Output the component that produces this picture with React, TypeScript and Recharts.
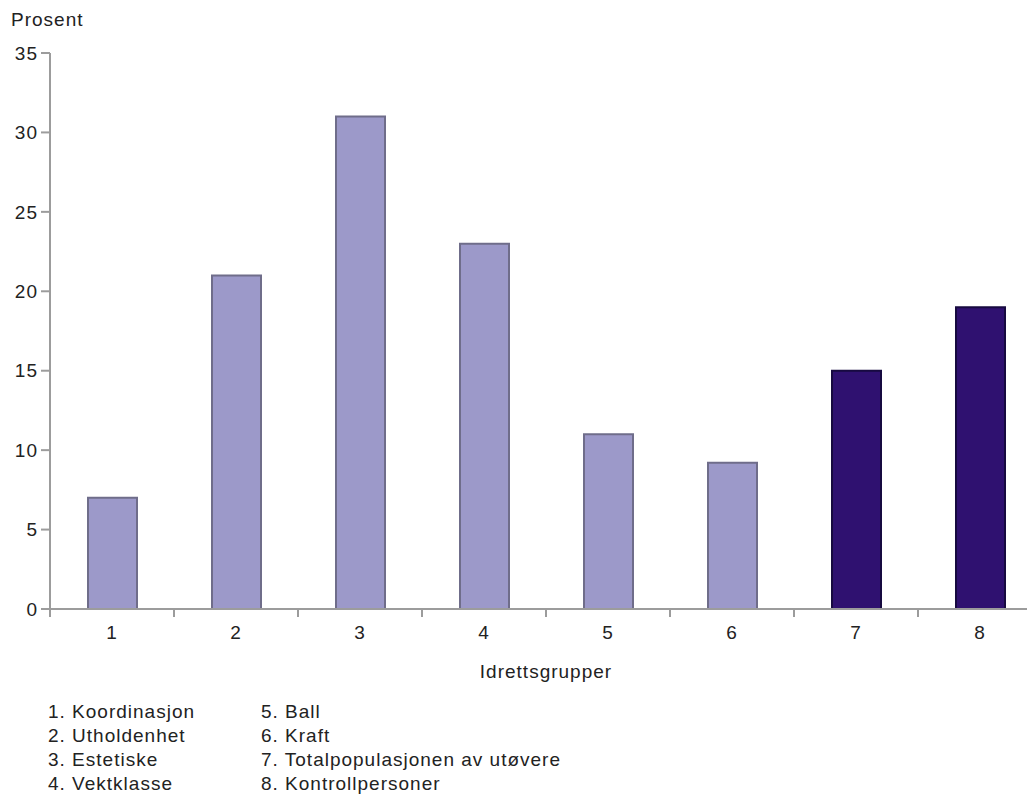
import React from 'react';
import { Bar, BarChart, Cell, XAxis, YAxis } from 'recharts';

// idrettsgrupper 1-8, andel i prosent
const groups = ['1', '2', '3', '4', '5', '6', '7', '8'];
const prosent = [7, 21, 31, 23, 11, 9.2, 15, 19];
// 7 og 8 er referansegruppene (mørke søyler)
const referanse = [false, false, false, false, false, false, true, true];

const yTicks = [0, 5, 10, 15, 20, 25, 30, 35];
const edgeTicks = [0, 1, 2, 3, 4, 5, 6, 7, 8];

const legendLeft = ['1. Koordinasjon', '2. Utholdenhet', '3. Estetiske', '4. Vektklasse'];
const legendRight = ['5. Ball', '6. Kraft', '7. Totalpopulasjonen av utøvere', '8. Kontrollpersoner'];

const data = groups.map((g, i) => ({ group: g, idx: i + 0.5, prosent: prosent[i] }));

const FONT = '"Liberation Sans", Arial, sans-serif';
const AXIS = '#9c9c9c';
const TEXT = '#222';

const textStyle: React.CSSProperties = {
  position: 'absolute',
  fontFamily: FONT,
  fontSize: 19,
  letterSpacing: 1,
  lineHeight: '24px',
  color: TEXT,
  whiteSpace: 'nowrap',
};

export default function App() {
  return (
    <div
      style={{
        position: 'fixed',
        left: 0,
        top: 0,
        width: 1027,
        height: 796,
        overflow: 'hidden',
        background: '#fff',
      }}
    >
      <BarChart
        width={1042}
        height={796}
        data={data}
        margin={{ top: 53, right: 0, left: 0, bottom: 146 }}
        style={{ fontFamily: FONT }}
      >
        <XAxis
          xAxisId='b'
          dataKey='group'
          height={40}
          axisLine={false}
          tickLine={false}
          tickSize={0}
          tickMargin={16}
          tick={{ fontSize: 19, fill: TEXT, letterSpacing: 1 }}
        />
        {/* x-aksen med streker mellom gruppene */}
        <XAxis
          xAxisId='a'
          type='number'
          dataKey='idx'
          domain={[0, 8]}
          ticks={edgeTicks}
          interval={0}
          height={1}
          axisLine={{ stroke: AXIS, strokeWidth: 2 }}
          tickLine={{ stroke: AXIS, strokeWidth: 2 }}
          tickSize={8}
          tickFormatter={() => ''}
        />
        <YAxis
          width={50}
          domain={[0, 35]}
          ticks={yTicks}
          interval={0}
          axisLine={{ stroke: AXIS, strokeWidth: 2 }}
          tickLine={{ stroke: AXIS, strokeWidth: 2 }}
          tickSize={9}
          tickMargin={3}
          tick={{ fontSize: 19, fill: TEXT, letterSpacing: 1 }}
        />
        <Bar
          xAxisId='b'
          dataKey='prosent'
          barSize={49}
          strokeWidth={2}
          isAnimationActive={false}
        >
          {data.map((d, i) => (
            <Cell
              key={d.group}
              fill={referanse[i] ? '#2f1170' : '#9c99c9'}
              stroke={referanse[i] ? '#170a40' : '#6f6d8a'}
            />
          ))}
        </Bar>
      </BarChart>

      <div style={{ ...textStyle, left: 11, top: 8 }}>Prosent</div>
      <div style={{ ...textStyle, left: 446, top: 660, width: 200, textAlign: 'center' }}>
        Idrettsgrupper
      </div>
      <div style={{ ...textStyle, left: 48, top: 700 }}>
        {legendLeft.map((t) => (
          <div key={t}>{t}</div>
        ))}
      </div>
      <div style={{ ...textStyle, left: 261, top: 700 }}>
        {legendRight.map((t) => (
          <div key={t}>{t}</div>
        ))}
      </div>
    </div>
  );
}
